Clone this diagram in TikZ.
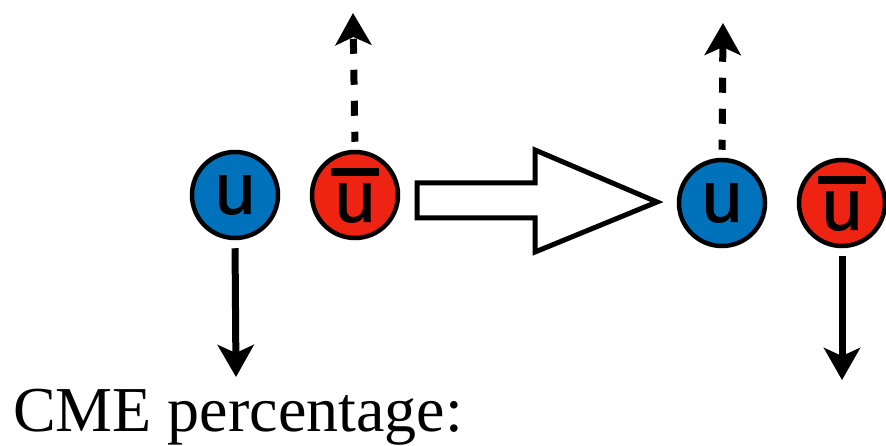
\documentclass[tikz,border=0pt]{standalone}
\usepackage{fontspec}
\setmainfont{Liberation Serif}
\newfontfamily\quarkfont[FakeBold=1.5]{Liberation Sans}
\usepackage{tikz}
\usetikzlibrary{arrows.meta, positioning}

\definecolor{qblue}{RGB}{0,114,188}
\definecolor{qred}{RGB}{238,35,17}

% anti-quark label: thick bar over the letter
\newcommand{\antiu}{\vbox{\hrule height 8pt width 48pt\kern 8pt\hbox to 48pt{\hss u\hss}}}

\begin{document}
\begin{tikzpicture}[x=1pt, y=1pt, >={Stealth[length=32pt, width=36pt, inset=8pt]},
  quark/.style={circle, draw, line width=4.5pt, minimum size=86pt, inner sep=0pt,
    font=\quarkfont\fontsize{72}{72}\selectfont},
  spin/.style={->, line width=7pt, shorten <=8pt},
  spindash/.style={spin, dash pattern=on 15pt off 16pt, dash phase=5pt}]
  \useasboundingbox (0,0) rectangle (886,445);

  % before
  \node[quark, fill=qblue] (uL) at (235,250) {u};
  \node[quark, fill=qred] (ubL) at (355,250) {\antiu};
  \coordinate (uLend) at (236,68);
  \coordinate (ubLend) at (353,432);
  \draw[spin] (uL.south) -- (uLend);
  \draw[spindash] (ubL.north) -- (ubLend);

  % block arrow
  \draw[line width=5pt, fill=white] (417,227) -- (535,227) -- (535,193) -- (657,243)
    -- (535,295) -- (535,262) -- (417,262) -- cycle;

  % after
  \node[quark, fill=qblue] (uR) at (722,242) {u};
  \node[quark, fill=qred] (ubR) at (842,242) {\antiu};
  \coordinate (uRend) at (723,422);
  \coordinate (ubRend) at (842,65);
  \draw[spindash] (uR.north) -- (uRend);
  \draw[spin] (ubR.south) -- (ubRend);

  \node[anchor=base west, inner sep=0pt, font=\fontsize{64}{70}\selectfont] (cme) at (13,14) {CME percentage:};
\end{tikzpicture}
\end{document}
